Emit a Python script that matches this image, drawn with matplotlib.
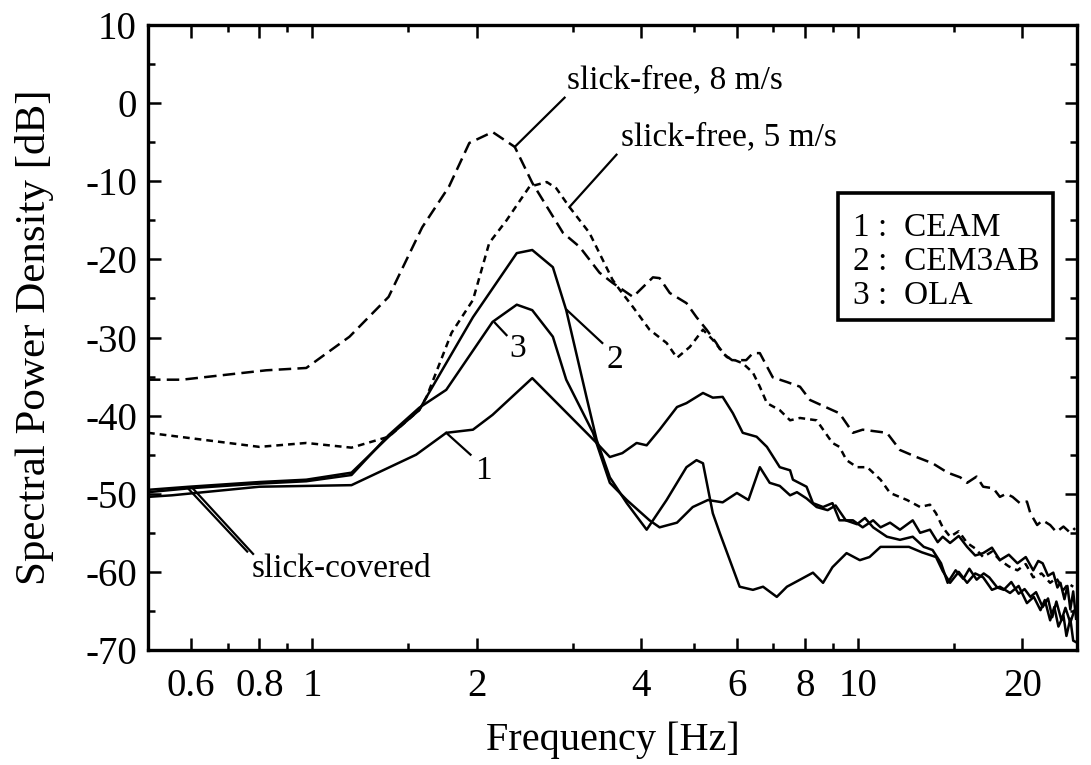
import numpy as np
import matplotlib
matplotlib.use("Agg")
import matplotlib.pyplot as plt
from matplotlib.ticker import FixedLocator, FixedFormatter, NullFormatter
from matplotlib.patches import Rectangle

plt.rcParams['font.family'] = ['Liberation Serif', 'DejaVu Serif']
plt.rcParams['axes.unicode_minus'] = False

# ---------------- data ----------------
f_free8 = [0.50, 0.577, 0.823, 0.975, 1.17, 1.38, 1.59, 1.78, 1.94, 2.14, 2.35, 2.53,
           2.88, 3.09, 3.36, 3.55, 3.87, 4.21, 4.33, 4.52, 4.85, 5.06, 5.28, 5.50, 5.64,
           5.88, 6.24, 6.42, 6.61, 6.98, 7.41, 7.83, 8.17, 8.98, 9.25, 9.79, 10.2, 11.3,
           11.94, 12.8, 13.7, 14.6, 15.4, 15.85, 16.5, 16.96, 17.7, 18.2, 18.7, 19.2,
           19.8, 20.4, 20.7, 21.3, 21.8, 22.5, 23.1, 23.8, 24.5, 25.0]
db_free8 = [-35.4, -35.4, -34.2, -33.9, -29.9, -24.8, -15.9, -10.7, -5.1, -3.7, -5.6, -10.2,
            -16.6, -18.4, -21.7, -23.0, -24.8, -22.3, -22.4, -24.3, -25.6, -27.4, -29.0, -30.7, -32.0,
            -32.9, -32.9, -32.0, -32.0, -35.1, -35.7, -36.3, -38.0, -39.3, -39.7, -42.2, -41.8, -42.2,
            -44.4, -45.3, -46.1, -47.3, -47.9, -48.6, -47.8, -49.1, -49.3, -50.4, -50.0, -50.4,
            -51.2, -51.0, -52.5, -54.0, -53.4, -54.0, -54.9, -54.2, -55.0, -54.4]

f_free5 = [0.50, 0.57, 0.80, 0.975, 1.18, 1.38, 1.57, 1.62, 1.80, 1.97, 2.11, 2.27, 2.50,
           2.69, 2.80, 2.96, 3.22, 3.55, 3.66, 3.87, 4.15, 4.46, 4.66, 4.92, 5.20, 5.42,
           5.75, 6.15, 6.42, 6.61, 6.81, 7.19, 7.51, 7.83, 8.4, 8.98, 9.25, 9.53, 9.96,
           10.4, 11.0, 11.45, 12.3, 13.0, 13.55, 13.9, 14.3, 14.75, 15.3, 15.85, 16.4,
           16.96, 17.6, 18.2, 18.9, 19.6, 20.3, 20.95, 21.7, 22.5, 23.1, 23.8, 24.3, 24.8]
db_free5 = [-42.2, -42.7, -44.0, -43.5, -44.1, -42.7, -39.3, -37.6, -29.4, -25.2, -17.9, -15.0, -10.7,
            -10.1, -10.9, -13.3, -16.6, -22.6, -23.9, -26.1, -29.0, -30.7, -32.6, -31.2, -29.0, -30.3,
            -32.5, -33.3, -34.5, -36.3, -38.4, -39.3, -40.6, -40.3, -40.6, -43.5, -44.0, -45.7, -46.6,
            -46.6, -48.2, -49.9, -50.8, -51.7, -51.4, -52.5, -54.3, -55.5, -54.8, -56.3, -57.0,
            -58.1, -57.4, -58.5, -59.3, -59.8, -59.0, -60.7, -60.2, -61.4, -60.8, -62.3, -61.5, -61.9]

f_ceam = [0.50, 0.553, 0.80, 1.18, 1.55, 1.76, 1.97, 2.14, 2.53, 3.32, 3.51, 3.70, 3.93,
          4.10, 4.33, 4.66, 4.85, 5.20, 5.42, 5.65, 5.90, 6.15, 6.52, 6.81, 7.19, 7.51,
          7.60, 8.05, 8.27, 8.63, 8.98, 9.25, 9.79, 10.2, 10.66, 11.0, 11.45, 11.94, 12.6,
          13.0, 13.55, 14.0, 14.3, 14.75, 15.3, 15.85, 16.4, 16.96, 17.6, 18.2, 18.9, 19.6,
          20.3, 20.95, 21.4, 21.8, 22.3, 22.8, 23.2, 23.5, 23.9, 24.2, 24.5, 24.8, 25.1]
db_ceam = [-50.4, -50.2, -49.1, -48.9, -45.0, -42.2, -41.8, -39.9, -35.2, -43.5, -45.3, -44.8, -43.5,
           -43.8, -41.8, -38.9, -38.4, -37.1, -37.7, -37.6, -39.7, -42.2, -42.7, -44.0, -46.6, -47.0,
           -48.2, -49.1, -51.2, -51.7, -51.2, -53.4, -53.4, -54.3, -53.4, -54.3, -53.7, -54.6, -53.4,
           -55.0, -54.6, -56.2, -55.5, -56.3, -55.4, -56.8, -57.9, -57.6, -56.9, -58.5, -57.8, -58.9,
           -58.1, -59.8, -58.6, -58.9, -60.5, -60.1, -62.0, -61.4, -63.5, -61.8, -64.8, -62.5, -66.0]

f_cem3ab = [0.50, 0.595, 0.80, 0.975, 1.18, 1.38, 1.57, 1.62, 1.97, 2.37, 2.53, 2.76, 2.92,
            3.18, 3.32, 3.51, 3.77, 4.10, 4.46, 4.85, 5.06, 5.20, 5.42, 5.58, 6.07, 6.42,
            6.70, 7.10, 7.41, 7.83, 8.27, 8.63, 8.98, 9.53, 10.08, 10.5, 11.0, 11.6, 12.4,
            13.1, 13.9, 14.3, 14.75, 15.3, 15.85, 16.4, 16.96, 17.6, 18.2, 19.0, 19.7, 20.4,
            21.0, 21.6, 22.0, 22.5, 22.9, 23.3, 23.8, 24.1, 24.5, 24.8, 25.1]
db_cem3ab = [-49.5, -49.1, -48.5, -48.2, -47.3, -42.7, -39.3, -37.6, -27.4, -19.2, -18.8, -21.0, -26.5,
             -37.6, -43.1, -47.9, -51.2, -54.6, -50.8, -46.6, -45.7, -46.1, -52.5, -55.0, -61.9, -62.3,
             -61.9, -63.2, -61.9, -61.0, -60.1, -61.4, -59.4, -57.6, -58.5, -58.1, -56.8, -56.8, -56.8,
             -57.5, -58.1, -59.9, -61.4, -60.0, -61.4, -60.2, -60.7, -62.3, -61.9, -62.7, -61.8, -64.0,
             -63.2, -64.9, -63.6, -66.2, -64.5, -67.0, -65.6, -68.2, -66.0, -68.8, -69.0]

f_ola = [0.50, 0.595, 0.80, 0.975, 1.18, 1.38, 1.57, 1.76, 2.14, 2.37, 2.53, 2.76, 2.92,
         3.27, 3.51, 3.77, 4.15, 4.33, 4.66, 4.98, 5.31, 5.65, 6.00, 6.30, 6.61, 6.89,
         7.19, 7.51, 7.73, 8.05, 8.4, 8.8, 9.1, 9.5, 9.96, 10.3, 10.66, 11.3, 11.94, 12.6,
         13.2, 13.7, 14.2, 14.6, 15.1, 15.6, 16.0, 16.5, 17.0, 17.4, 18.0, 18.5, 19.1, 19.7,
         20.2, 20.7, 21.2, 21.8, 22.3, 22.7, 23.1, 23.6, 24.0, 24.5, 24.9]
db_ola = [-49.8, -49.3, -48.7, -48.4, -47.6, -42.5, -39.0, -36.7, -28.0, -25.8, -26.5, -29.9, -35.4,
          -42.2, -48.6, -50.8, -53.4, -54.3, -53.7, -51.7, -50.8, -51.1, -49.9, -50.8, -46.6, -48.6,
          -49.0, -50.2, -49.8, -50.6, -51.7, -52.1, -51.5, -53.4, -53.9, -53.1, -54.3, -55.5, -55.9, -55.5,
          -56.8, -57.2, -58.9, -61.4, -59.8, -60.9, -59.6, -61.0, -60.2, -60.7, -62.0, -62.3, -61.3, -62.8,
          -62.2, -63.2, -62.6, -64.5, -63.4, -65.8, -63.8, -66.2, -64.6, -66.5, -65.0]

curve_labels = ["1 :  CEAM", "2 :  CEM3AB", "3 :  OLA"]
xtick_major = [0.6, 0.8, 1, 2, 4, 6, 8, 10, 20]
xtick_major_labels = ["0.6", "0.8", "1", "2", "4", "6", "8", "10", "20"]
xtick_minor = [0.7, 0.9, 1.5, 3, 5, 7, 9, 15]
ytick_major = [10, 0, -10, -20, -30, -40, -50, -60, -70]
ytick_minor = [5, -5, -15, -25, -35, -45, -55, -65]

# ---------------- figure ----------------
W, H = 1091, 765
fig = plt.figure(figsize=(W / 100, H / 100), dpi=100)
ax = fig.add_axes([148 / W, 1 - 650 / H, 929 / W, 625 / H])

lw = 1.8
ax.plot(f_free8, db_free8, color='black', lw=lw, dashes=(5.0, 2.5))
ax.plot(f_free5, db_free5, color='black', lw=lw, dashes=(2.7, 2.0))
ax.plot(f_ceam, db_ceam, color='black', lw=lw)
ax.plot(f_cem3ab, db_cem3ab, color='black', lw=lw)
ax.plot(f_ola, db_ola, color='black', lw=lw)

ax.set_xscale('log')
ax.set_xlim(0.5, 25.2)
ax.set_ylim(-70, 10)

ax.xaxis.set_major_locator(FixedLocator(xtick_major))
ax.xaxis.set_major_formatter(FixedFormatter(xtick_major_labels))
ax.xaxis.set_minor_locator(FixedLocator(xtick_minor))
ax.xaxis.set_minor_formatter(NullFormatter())
ax.yaxis.set_major_locator(FixedLocator(ytick_major))
ax.yaxis.set_minor_locator(FixedLocator(ytick_minor))

ax.tick_params(which='both', direction='in', top=True, right=True, width=1.8, labelsize=28)
ax.tick_params(which='major', length=9)
ax.tick_params(which='minor', length=5)
ax.tick_params(axis='x', pad=13)
ax.tick_params(axis='y', pad=8)
for s in ax.spines.values():
    s.set_linewidth(2.4)

ax.set_xlabel("Frequency [Hz]", fontsize=29, labelpad=12)
ax.set_ylabel("Spectral Power Density [dB]", fontsize=31, labelpad=22)

# ---------------- annotations ----------------
fs = 24
lk = dict(color='black', lw=1.6)
ax.plot([2.35, 2.90], [-5.6, 0.7], **lk)
ax.text(2.93, 3.0, "slick-free, 8 m/s", fontsize=fs, va='center', ha='left')
ax.plot([2.96, 3.61], [-13.3, -6.6], **lk)
ax.text(3.68, -4.4, "slick-free, 5 m/s", fontsize=fs, va='center', ha='left')
ax.plot([2.16, 2.27], [-28.1, -29.7], **lk)
ax.text(2.38, -31.4, "3", fontsize=fs, va='center', ha='center')
ax.plot([2.93, 3.40], [-26.5, -30.7], **lk)
ax.text(3.58, -32.9, "2", fontsize=fs, va='center', ha='center')
ax.plot([1.76, 1.95], [-42.2, -45.0], **lk)
ax.text(2.06, -47.0, "1", fontsize=fs, va='center', ha='center')
ax.plot([0.590, 0.760], [-49.2, -57.4], **lk)
ax.plot([0.602, 0.779], [-49.2, -57.7], **lk)
ax.text(0.775, -59.6, "slick-covered", fontsize=fs, va='center', ha='left')

# legend-like key box
x0, x1 = (838 - 148) / 929, (1053 - 148) / 929
y0, y1 = (650 - 320) / 625, (650 - 193) / 625
ax.add_patch(Rectangle((x0, y0), x1 - x0, y1 - y0, transform=ax.transAxes,
                       facecolor='white', edgecolor='black', linewidth=2.6, zorder=5))
for lab, base in zip(curve_labels, [236, 270, 304]):
    ax.text((853 - 148) / 929, (650 - base) / 625, lab, transform=ax.transAxes,
            fontsize=fs, va='baseline', ha='left', zorder=6)

fig.savefig("out.png", dpi=100)
